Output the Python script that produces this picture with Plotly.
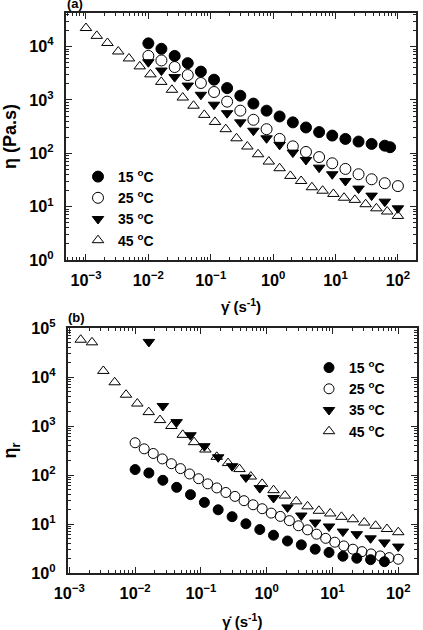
import plotly.graph_objects as go

# ---- shear rates (s^-1) ----
x20 = [0.01, 0.0162, 0.0264, 0.0428, 0.0695, 0.113, 0.183, 0.298, 0.483, 0.785,
       1.27, 2.07, 3.36, 5.46, 8.86, 14.4, 23.4, 37.9, 61.6, 100]
x30a = [0.001, 0.00149, 0.00221, 0.00329, 0.00489, 0.00728, 0.0108, 0.0161, 0.0239, 0.0356,
        0.0530, 0.0788, 0.117, 0.174, 0.259, 0.386, 0.574, 0.853, 1.27, 1.89,
        2.81, 4.18, 6.21, 9.24, 13.7, 20.4, 30.4, 45.2, 67.3, 100]
x30b = [0.01, 0.01374, 0.01887, 0.02593, 0.03562, 0.04894, 0.06723, 0.09237, 0.1269, 0.1743,
        0.2395, 0.3290, 0.4520, 0.6210, 0.8532, 1.172, 1.610, 2.212, 3.039, 4.175,
        5.736, 7.880, 10.83, 14.87, 20.43, 28.07, 38.57, 52.98, 72.79, 100]

# ---- panel (a): viscosity eta (Pa.s) ----
a15_x = x20[:19] + [75]
a15_y = [11500, 9100, 6700, 4900, 3400, 2400, 1670, 1200, 855, 630,
         490, 380, 305, 250, 215, 186, 166, 150, 139, 130]
a25_x = x20
a25_y = [6700, 5500, 4140, 2930, 2080, 1410, 930, 630, 425, 283,
         186, 135, 106, 85, 65, 51, 40.5, 32.6, 27.5, 24.3]
a35_x = x20
a35_y = [5100, 3560, 2680, 1860, 1250, 815, 565, 380, 265, 191,
         144, 103, 75, 53.8, 40.5, 30.3, 21.8, 16.1, 12.4, 9.3]
a45_x = x30a
a45_y = [22300, 15900, 11700, 8100, 6000, 4260, 3020, 2180, 1550, 1110,
         780, 525, 387, 283, 191, 134, 96, 70, 52.5, 37.7,
         30.3, 23.1, 19.9, 17.3, 14.7, 13.4, 11.1, 9.3, 8.1, 6.7]

# ---- panel (b): relative viscosity eta_r ----
b15_x = x20[:19]
b15_y = [129, 110, 78, 56, 39.7, 27.6, 19.5, 14.1, 10.1, 7.7,
         5.9, 4.5, 3.75, 3.06, 2.63, 2.20, 2.0, 1.87, 1.70]
b25_x = x30b
b25_y = [455, 342, 275, 213, 170, 135, 105, 84, 66, 54.5,
         44, 36.6, 29.9, 24.7, 20.5, 16.7, 14.3, 11.7, 9.2, 7.6,
         6.2, 5.1, 4.25, 3.57, 3.06, 2.73, 2.45, 2.23, 2.06, 1.91]
b35_x = x20[1:]
b35_y = [52000, 2560, 1200, 648, 387, 230, 151, 89, 54, 34,
         21.8, 14.9, 10.7, 8.9, 7.0, 6.2, 5.1, 4.2, 3.46]
b45_x = x30a[1:]
b45_y = [57600, 51000, 13300, 7800, 4350, 2870, 1920, 1320, 1000, 660,
         468, 331, 235, 175, 132, 93, 66, 49, 38, 29,
         22.9, 18.6, 16.4, 14.0, 12.5, 10.7, 9.2, 7.9, 6.8]

labels = ["15 <sup>o</sup>C", "25 <sup>o</sup>C", "35 <sup>o</sup>C", "45 <sup>o</sup>C"]
symbols = ["circle", "circle-open", "triangle-down", "triangle-up-open"]
tick_alias = {"1": "10<sup>0</sup>", "10": "10<sup>1</sup>", "100": "10<sup>2</sup>"}

FONT = "Liberation Sans, Arial, sans-serif"
fig = go.Figure()

panel_a = [(a15_x, a15_y), (a25_x, a25_y), (a35_x, a35_y), (a45_x, a45_y)]
panel_b = [(b15_x, b15_y), (b25_x, b25_y), (b35_x, b35_y), (b45_x, b45_y)]

for i, (xs, ys) in enumerate(panel_a):
    fig.add_trace(go.Scatter(
        x=xs, y=ys, mode="markers", name=labels[i], legend="legend",
        marker=dict(symbol=symbols[i], size=11 if "circle" in symbols[i] else 10,
                    color="black", line=dict(color="black", width=1)),
        xaxis="x", yaxis="y"))
for i, (xs, ys) in enumerate(panel_b):
    fig.add_trace(go.Scatter(
        x=xs, y=ys, mode="markers", name=labels[i], legend="legend2",
        marker=dict(symbol=symbols[i], size=10,
                    color="black", line=dict(color="black", width=1)),
        xaxis="x2", yaxis="y2"))

W, H = 423, 630
def px_x(p): return p / W
def px_y(p): return 1 - p / H

def axis_common():
    return dict(type="log", dtick=1, exponentformat="power", showexponent="all",
                labelalias=tick_alias,
                showline=True, linecolor="#222", linewidth=1.5, mirror="allticks",
                ticks="inside", ticklen=6, tickwidth=1.2, tickcolor="#222",
                minor=dict(ticks="inside", dtick="D1", ticklen=3, tickwidth=1,
                           tickcolor="#222", showgrid=False),
                showgrid=False, zeroline=False, automargin=False,
                tickfont=dict(family=FONT, size=13, color="black", weight="bold"))

title_font = dict(family=FONT, size=15, color="black", weight="bold")
ytitle_font = dict(family=FONT, size=18, color="black", weight="bold")

xa = axis_common()
xa.update(domain=[px_x(66), px_x(416)], range=[-3.32, 2.29], anchor="y",
          ticklabelstandoff=5,
          title=dict(text="γ̇ (s<sup>-1</sup>)", standoff=14, font=title_font))
ya = axis_common()
ya.update(domain=[px_y(260), px_y(13)], range=[0, 4.63], anchor="x",
          ticklabelstandoff=8,
          title=dict(text="η (Pa.s)", standoff=8, font=ytitle_font))
xb = axis_common()
xb.update(domain=[px_x(68), px_x(416.7)], range=[-3.02, 2.28], anchor="y2",
          ticklabelstandoff=5,
          title=dict(text="γ̇ (s<sup>-1</sup>)", standoff=18, font=title_font))
yb = axis_common()
yb.update(domain=[px_y(573), px_y(328)], range=[0, 5], anchor="x2",
          ticklabelstandoff=8,
          title=dict(text="η<sub>r</sub>", standoff=14, font=ytitle_font))

legend_font = dict(family=FONT, size=14, color="black", weight="bold")
fig.update_layout(
    width=W, height=H, margin=dict(l=0, r=0, t=0, b=0),
    paper_bgcolor="white", plot_bgcolor="white",
    font=dict(family=FONT, color="black"),
    xaxis=xa, yaxis=ya, xaxis2=xb, yaxis2=yb,
    legend=dict(x=px_x(78), y=px_y(161), xanchor="left", yanchor="top",
                bgcolor="rgba(0,0,0,0)", font=legend_font, tracegroupgap=0,
                itemclick=False),
    legend2=dict(x=px_x(309), y=px_y(352), xanchor="left", yanchor="top",
                 bgcolor="rgba(0,0,0,0)", font=legend_font, tracegroupgap=0,
                 itemclick=False),
    annotations=[
        dict(text="(a)", xref="paper", yref="paper", x=px_x(65), y=px_y(13),
             xanchor="left", yanchor="bottom", showarrow=False,
             font=dict(family=FONT, size=13, color="black", weight="bold")),
        dict(text="(b)", xref="paper", yref="paper", x=px_x(66), y=px_y(327),
             xanchor="left", yanchor="bottom", showarrow=False,
             font=dict(family=FONT, size=13, color="black", weight="bold")),
    ],
)

fig.write_html("out.html")
